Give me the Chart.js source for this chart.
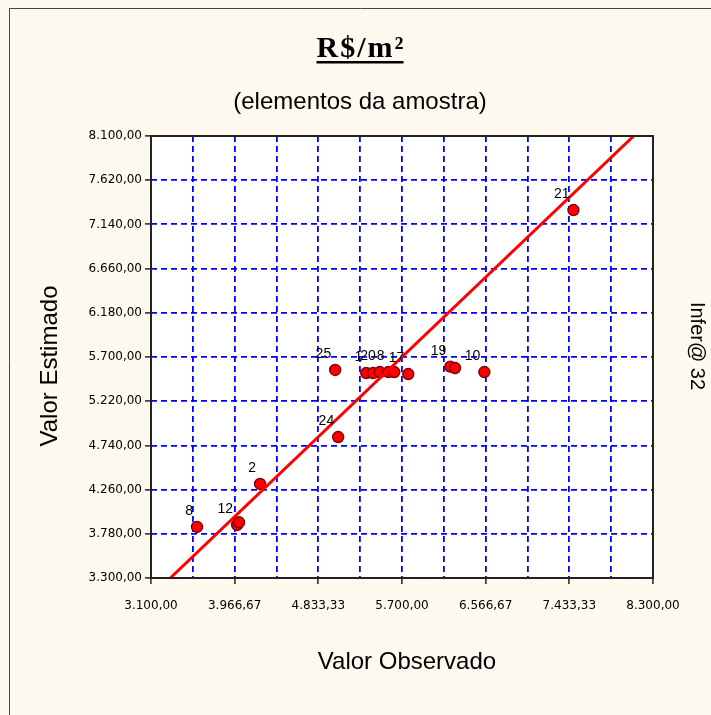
<!DOCTYPE html>
<html>
<head>
<meta charset="utf-8">
<script src="https://cdn.jsdelivr.net/npm/chart.js@4/dist/chart.umd.min.js"></script>
<style>
  html, body { margin: 0; padding: 0; background: #FEF9EE; }
  canvas { display: block; }
</style>
</head>
<body>
<canvas id="chart" width="711" height="715"></canvas>
<script>
// Sample elements: observed vs. estimated price per m²
const sampleIds = ['8', '12', '', '2', '24', '25', '1', '', '20', '8', '', '17', '19', '', '10', '21'];
const observed  = [3577, 3992, 4012, 4230, 5039, 5008, 5330, 5400, 5470, 5560, 5620, 5765, 6200, 6250, 6553, 7476];
const estimated = [3854, 3876, 3905, 4321, 4831, 5559, 5526, 5526, 5537, 5537, 5537, 5515, 5595, 5580, 5537, 7296];

// Reference line (estimated = observed)
const fitLineX = [3300, 8100];
const fitLineY = [3300, 8100];

// Axis ticks
const yTickValues = [3300, 3780, 4260, 4740, 5220, 5700, 6180, 6660, 7140, 7620, 8100];
const yTickLabels = ['3.300,00', '3.780,00', '4.260,00', '4.740,00', '5.220,00', '5.700,00',
                     '6.180,00', '6.660,00', '7.140,00', '7.620,00', '8.100,00'];
const xTickValues = [3100, 3533.33, 3966.67, 4400, 4833.33, 5266.67, 5700,
                     6133.33, 6566.67, 7000, 7433.33, 7866.67, 8300];
const xTickLabels = ['3.100,00', '', '3.966,67', '', '4.833,33', '', '5.700,00',
                     '', '6.566,67', '', '7.433,33', '', '8.300,00'];

const titleText = 'R$/m²';
const subtitleText = '(elementos da amostra)';
const xTitleText = 'Valor Observado';
const yTitleText = 'Valor Estimado';
const sideText = 'Infer@ 32';

const pointData = observed.map((x, i) => ({ x: x, y: estimated[i] }));
const lineData = fitLineX.map((x, i) => ({ x: x, y: fitLineY[i] }));

const tickFont = { family: 'DejaVu Sans', size: 12 };

// Cream page, white plot box, frame and all titles
const framePlugin = {
  id: 'framePlugin',
  beforeDraw(chart) {
    const { ctx, chartArea: a } = chart;
    ctx.save();
    ctx.fillStyle = '#FEF9EE';
    ctx.fillRect(0, 0, chart.width, chart.height);
    ctx.fillStyle = '#FFFFFF';
    ctx.fillRect(a.left, a.top, a.right - a.left, a.bottom - a.top);
    // outer border (left and top edges)
    ctx.strokeStyle = '#444';
    ctx.lineWidth = 1;
    ctx.beginPath();
    ctx.moveTo(9.5, chart.height);
    ctx.lineTo(9.5, 8.5);
    ctx.lineTo(chart.width, 8.5);
    ctx.stroke();
    ctx.restore();
  },
  afterDraw(chart) {
    const { ctx, chartArea: a } = chart;
    ctx.save();
    ctx.strokeStyle = '#222';
    ctx.lineWidth = 2;
    ctx.strokeRect(a.left, a.top, a.right - a.left, a.bottom - a.top);

    ctx.fillStyle = '#000';
    // title with underline
    ctx.font = 'bold 30px "Liberation Serif"';
    ctx.textAlign = 'left';
    ctx.textBaseline = 'alphabetic';
    ctx.letterSpacing = '2px';
    const w = ctx.measureText(titleText).width - 2;
    ctx.fillText(titleText, 360 - w / 2, 57);
    ctx.fillRect(360 - w / 2, 61, w, 2.5);
    ctx.letterSpacing = '0px';

    ctx.textAlign = 'center';
    ctx.font = '24px "Liberation Sans"';
    ctx.fillText(subtitleText, 360, 109);

    ctx.textBaseline = 'middle';
    ctx.fillText(xTitleText, 407, 662);

    ctx.save();
    ctx.translate(50, 366);
    ctx.rotate(-Math.PI / 2);
    ctx.fillText(yTitleText, 0, 0);
    ctx.restore();

    ctx.save();
    ctx.font = '20px "Liberation Sans"';
    ctx.translate(697, 346);
    ctx.rotate(Math.PI / 2);
    ctx.fillText(sideText, 0, 0);
    ctx.restore();
    ctx.restore();
  }
};

// Sample numbers beside each point
const pointLabelPlugin = {
  id: 'pointLabelPlugin',
  afterDatasetsDraw(chart) {
    const meta = chart.getDatasetMeta(1);
    const { ctx } = chart;
    ctx.save();
    ctx.font = '14px "Liberation Sans"';
    ctx.fillStyle = '#000';
    ctx.textAlign = 'right';
    ctx.textBaseline = 'middle';
    meta.data.forEach((el, i) => {
      if (sampleIds[i]) ctx.fillText(sampleIds[i], el.x - 4, el.y - 16);
    });
    ctx.restore();
  }
};

new Chart(document.getElementById('chart'), {
  type: 'scatter',
  data: {
    datasets: [
      {
        type: 'line',
        data: lineData,
        borderColor: '#FF0000',
        borderWidth: 3,
        pointRadius: 0,
        fill: false
      },
      {
        data: pointData,
        backgroundColor: '#FF0000',
        borderColor: '#7A0000',
        borderWidth: 1.4,
        pointRadius: 5.5,
        pointHoverRadius: 5.5
      }
    ]
  },
  options: {
    responsive: false,
    animation: false,
    devicePixelRatio: 1,
    layout: { padding: { top: 136, left: 0, right: 58, bottom: 0 } },
    plugins: {
      legend: { display: false },
      tooltip: { enabled: false },
      title: { display: false }
    },
    scales: {
      x: {
        type: 'linear',
        min: 3100,
        max: 8300,
        afterFit(scale) { scale.height = 137; },
        afterBuildTicks(scale) { scale.ticks = xTickValues.map(v => ({ value: v })); },
        ticks: {
          autoSkip: false,
          maxRotation: 0,
          padding: 15,
          color: '#000',
          font: tickFont,
          callback: (v, i) => xTickLabels[i]
        },
        grid: {
          color: '#0000FF',
          lineWidth: 1.8,
          tickLength: 6,
          tickWidth: 1.5,
          tickColor: ctx => (xTickLabels[ctx.index] ? '#222' : 'rgba(0,0,0,0)')
        },
        border: { display: false, dash: [6, 4] }
      },
      y: {
        type: 'linear',
        min: 3300,
        max: 8100,
        afterFit(scale) { scale.width = 151; },
        afterBuildTicks(scale) { scale.ticks = yTickValues.map(v => ({ value: v })); },
        ticks: {
          autoSkip: false,
          padding: 3,
          color: '#000',
          font: tickFont,
          callback: (v, i) => yTickLabels[i]
        },
        grid: {
          color: '#0000FF',
          lineWidth: 1.8,
          tickLength: 6,
          tickWidth: 1.5,
          tickColor: '#222'
        },
        border: { display: false, dash: [6, 4] }
      }
    }
  },
  plugins: [framePlugin, pointLabelPlugin]
});
</script>
</body>
</html>
